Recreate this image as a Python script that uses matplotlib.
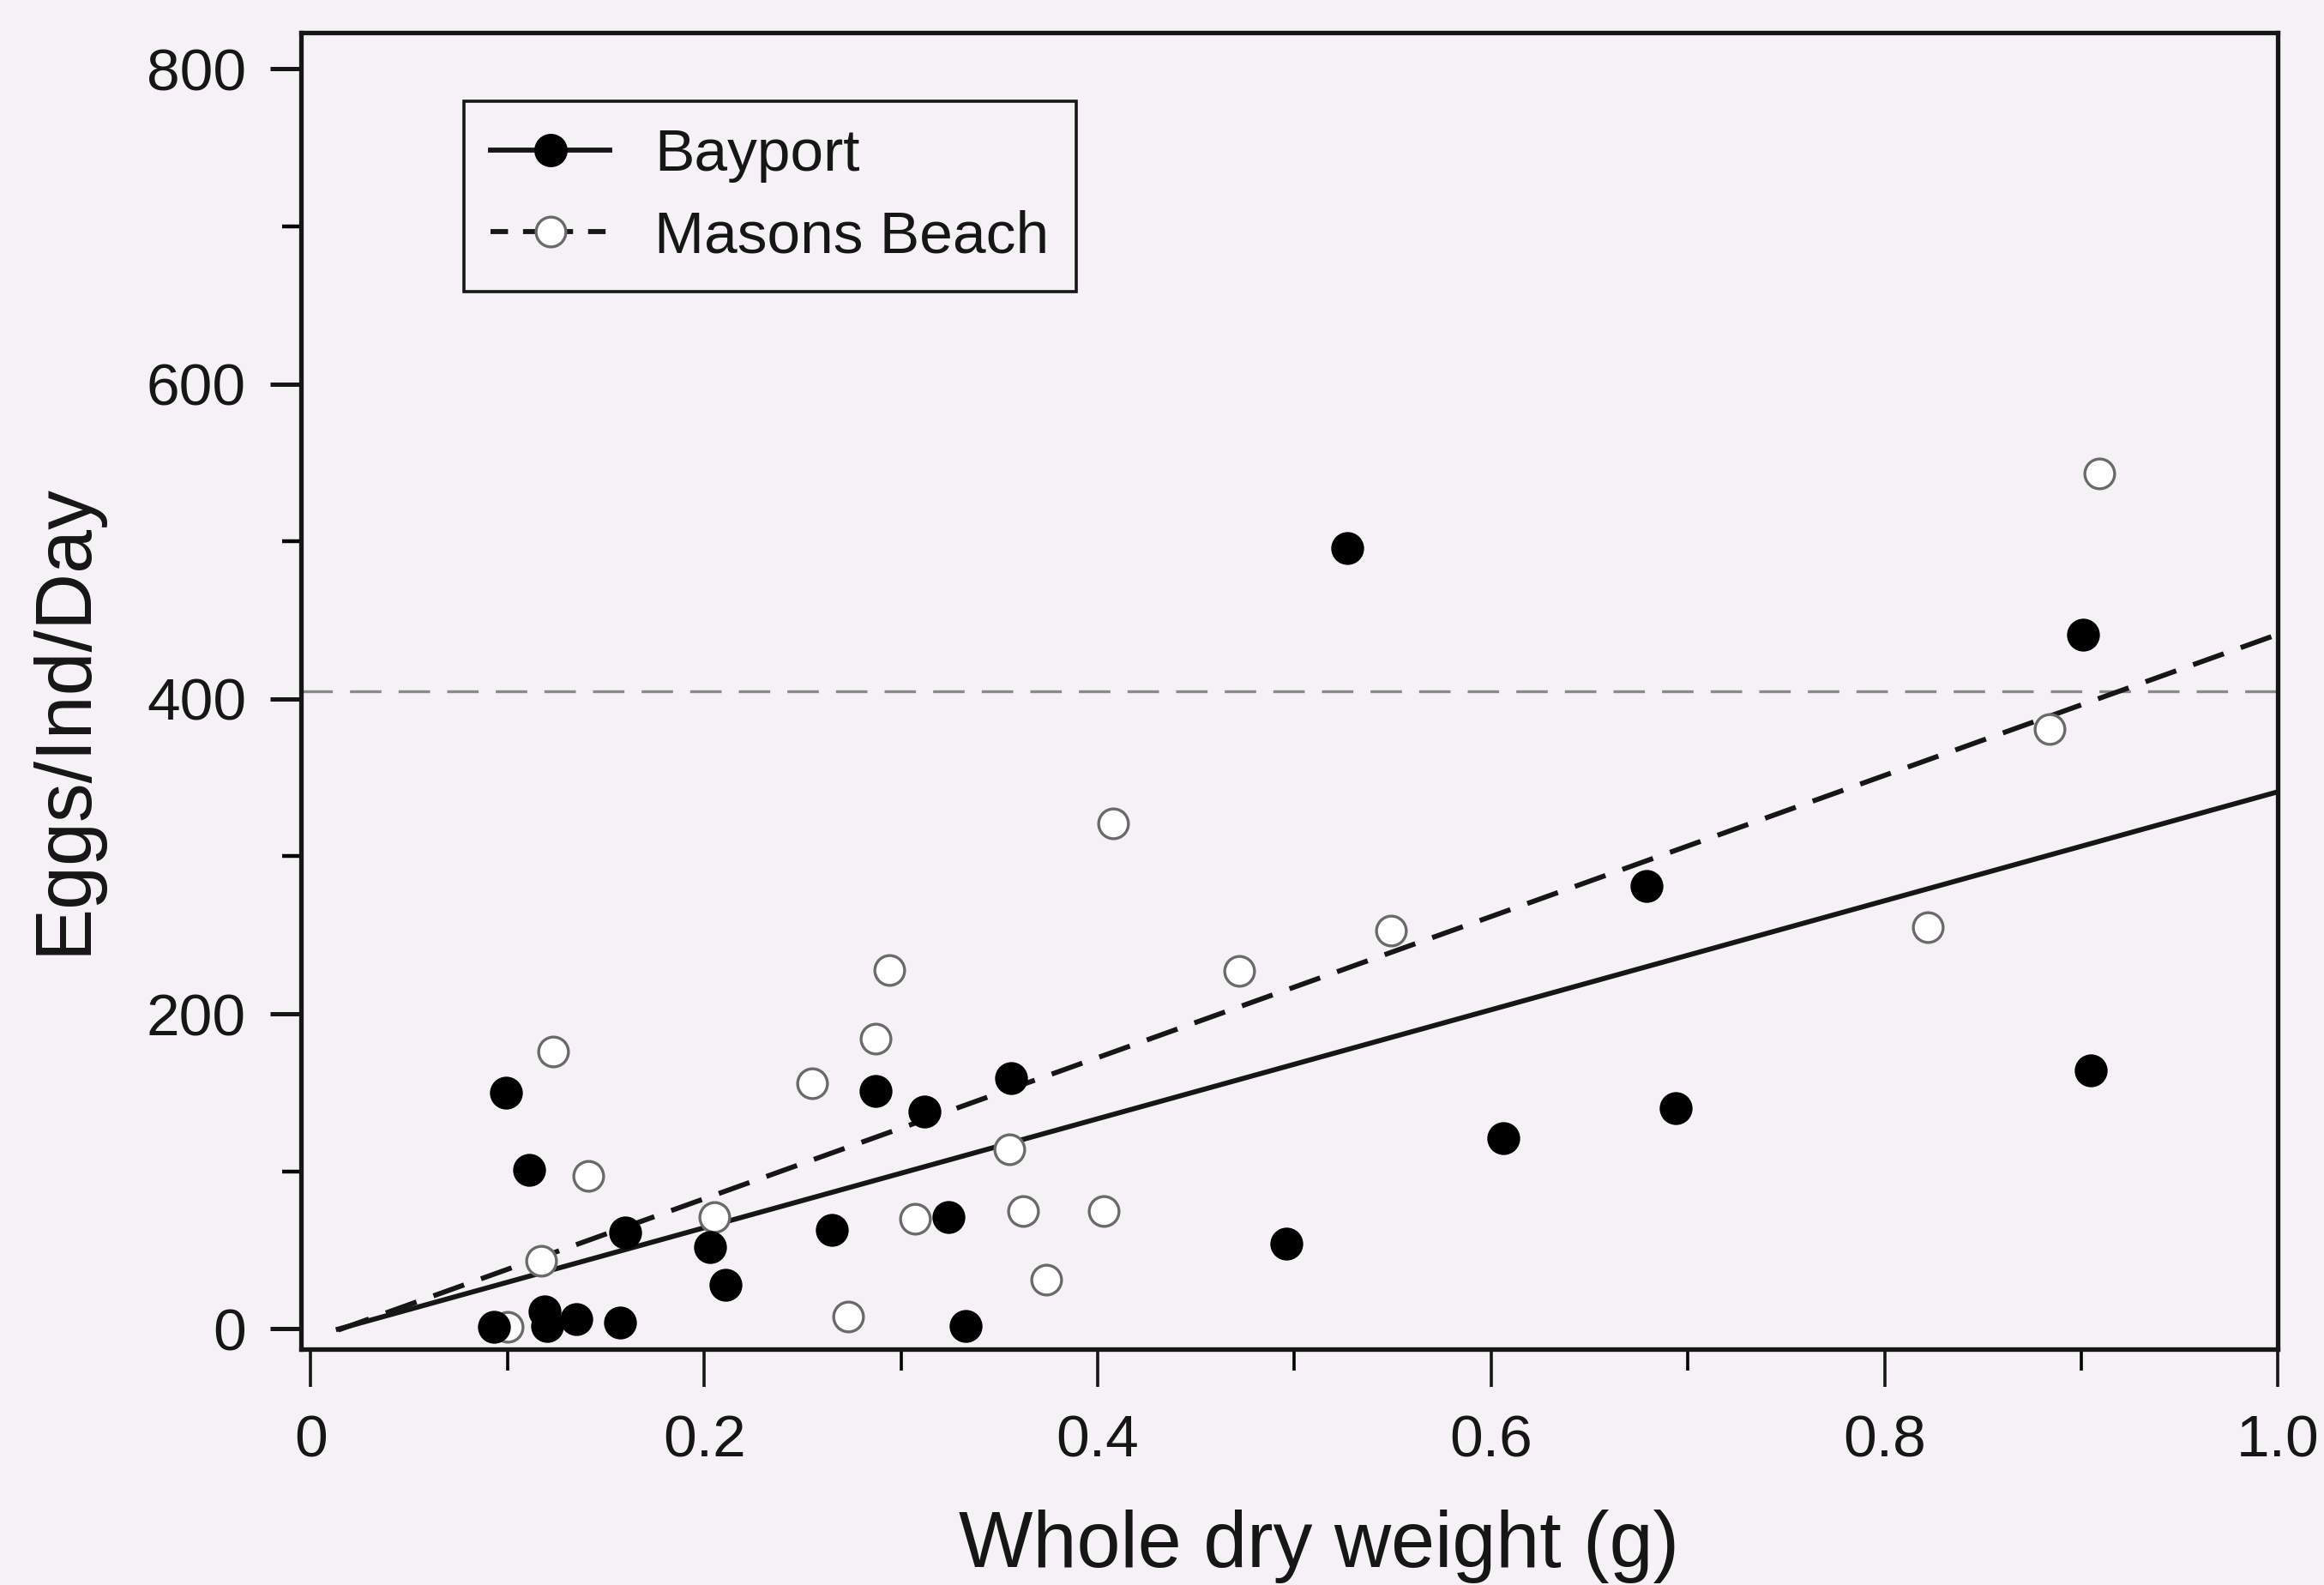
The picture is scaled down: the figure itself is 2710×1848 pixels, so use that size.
import numpy as np
import matplotlib.pyplot as plt
from matplotlib.lines import Line2D

plt.rcParams['font.family'] = ['Liberation Sans', 'DejaVu Sans']

BG = '#f4f2f4'
INK = '#161616'
OPEN_EDGE = '#6a6a6a'

# Bayport (filled circles)
bayport_x = [0.093, 0.119, 0.120, 0.135, 0.157, 0.160, 0.099, 0.111, 0.203, 0.211,
             0.265, 0.287, 0.312, 0.324, 0.333, 0.356, 0.496, 0.527, 0.606, 0.679,
             0.694, 0.901, 0.905]
bayport_y = [1, 11, 2, 6, 4, 61, 150, 101, 52, 28,
             63, 151, 138, 71, 2, 159, 54, 496, 121, 281,
             140, 441, 164]

# Masons Beach (open circles)
masons_x = [0.100, 0.117, 0.123, 0.141, 0.205, 0.255, 0.273, 0.287, 0.294, 0.307,
            0.355, 0.362, 0.374, 0.403, 0.408, 0.472, 0.549, 0.822, 0.884, 0.909]
masons_y = [1, 43, 176, 97, 71, 156, 8, 184, 228, 70,
            114, 75, 31, 75, 321, 227, 253, 255, 381, 543]

# regression lines (intercept, slope) over the fitted range
fit_range = [0.014, 1.0]
bayport_fit = (-5.0, 346.0)
masons_fit = (-7.0, 448.0)

ref_level = 405

x_major = [0, 0.2, 0.4, 0.6, 0.8, 1.0]
x_labels = ['0', '0.2', '0.4', '0.6', '0.8', '1.0']
x_minor = [0.1, 0.3, 0.5, 0.7, 0.9]
y_major = [0, 200, 400, 600, 800]
y_minor = [100, 300, 500, 700]

fig = plt.figure(figsize=(13.55, 9.24), facecolor=BG)
ax = fig.add_axes([0.1295, 0.1487, 0.8507, 0.8307], facecolor=BG)

# faint reference line
ax.axhline(ref_level, color='#8a8a8a', lw=1.2, ls=(0, (11, 6)), zorder=1)

fx = np.array(fit_range)
ax.plot(fx, bayport_fit[0] + bayport_fit[1] * fx, color=INK, lw=2.1, ls='-', zorder=2)
ax.plot(fx, masons_fit[0] + masons_fit[1] * fx, color=INK, lw=2.1,
        ls=(0, (6.5, 3.6)), zorder=2)

ax.plot(masons_x, masons_y, ls='none', marker='o', ms=12.5, mfc='white',
        mec=OPEN_EDGE, mew=1.2, zorder=3)
ax.plot(bayport_x, bayport_y, ls='none', marker='o', ms=13, mfc='black',
        mec='black', mew=0.8, zorder=4)

ax.set_xlim(-0.005, 1.0)
ax.set_ylim(-13, 823)

ax.set_xticks(x_major)
ax.set_xticklabels(x_labels)
ax.set_xticks(x_minor, minor=True)
ax.set_yticks(y_major)
ax.set_yticks(y_minor, minor=True)

ax.tick_params(axis='x', which='major', direction='out', length=16, width=1.3,
               pad=11, labelsize=25, colors=INK)
ax.tick_params(axis='x', which='minor', direction='out', length=9, width=1.3)
ax.tick_params(axis='y', which='major', direction='out', length=13, width=1.8,
               pad=10, labelsize=25, colors=INK)
ax.tick_params(axis='y', which='minor', direction='out', length=8, width=1.6)

for side in ax.spines.values():
    side.set_linewidth(1.9)
    side.set_color(INK)

ax.set_xlabel('Whole dry weight (g)', fontsize=33, color=INK)
ax.xaxis.set_label_coords(0.515, -0.122)
ax.set_ylabel('Eggs/Ind/Day', fontsize=33, color=INK)
ax.yaxis.set_label_coords(-0.101, 0.479)

handles = [
    Line2D([], [], color=INK, lw=2.1, ls='-', marker='o', ms=13,
           mfc='black', mec='black'),
    Line2D([], [], color=INK, lw=2.1, ls=(0, (3.5, 3)), marker='o', ms=12.5,
           mfc='white', mec=OPEN_EDGE, mew=1.2),
]
leg = ax.legend(handles, ['Bayport', 'Masons Beach'], loc='upper left',
                bbox_to_anchor=(0.0825, 0.948), borderaxespad=0, fontsize=25,
                frameon=True, fancybox=False, handlelength=2.0, handletextpad=0.75,
                borderpad=0.45, labelspacing=0.45)
frame = leg.get_frame()
frame.set_edgecolor(INK)
frame.set_linewidth(1.3)
frame.set_facecolor(BG)
frame.set_alpha(1)
for t in leg.get_texts():
    t.set_color(INK)

plt.savefig('out.png', dpi=200, facecolor=BG)
plt.close()
